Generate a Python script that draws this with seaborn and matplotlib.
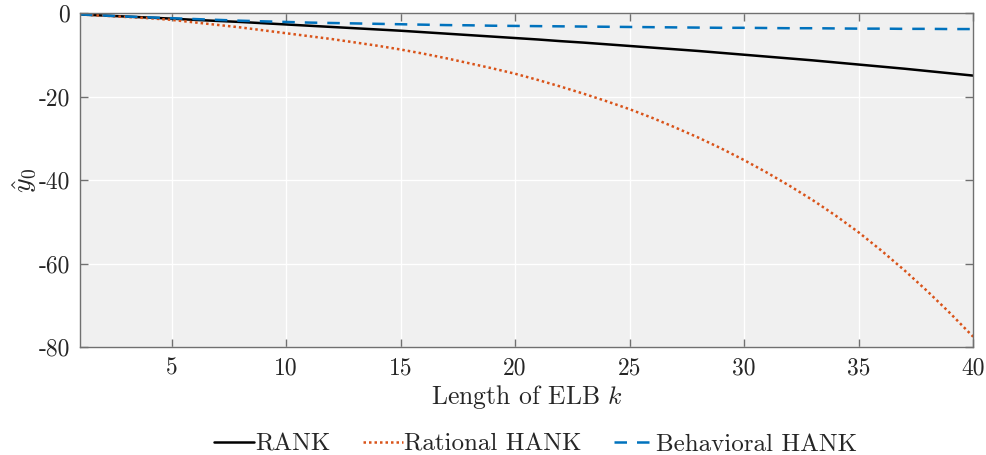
import numpy as np
import pandas as pd
import seaborn as sns
import matplotlib.pyplot as plt

# Length of ELB k
k = list(range(1, 41))

# y_hat_0, one value per k
rank = [-0.3, -0.55, -0.8, -1.05, -1.3, -1.6, -1.85, -2.1, -2.4, -2.7,
        -3.0, -3.3, -3.6, -3.9, -4.2, -4.55, -4.9, -5.25, -5.6, -5.95,
        -6.3, -6.7, -7.05, -7.45, -7.85, -8.25, -8.65, -9.05, -9.5, -9.95,
        -10.4, -10.85, -11.3, -11.8, -12.3, -12.8, -13.3, -13.85, -14.4, -14.95]
rational_hank = [-0.3, -0.6, -0.9, -1.2, -1.6, -2.2, -2.8, -3.4, -4.1, -4.8,
                 -5.5, -6.2, -7.0, -7.8, -8.7, -9.7, -10.8, -12.0, -13.2, -14.5,
                 -16.0, -17.6, -19.3, -21.1, -23.0, -25.1, -27.4, -29.8, -32.4, -35.2,
                 -38.2, -41.4, -44.8, -48.5, -52.5, -56.9, -61.6, -66.6, -71.9, -77.5]
behavioral_hank = [-0.3, -0.55, -0.8, -1.0, -1.2, -1.4, -1.6, -1.8, -1.95, -2.1,
                   -2.25, -2.35, -2.45, -2.55, -2.65, -2.75, -2.85, -2.9, -3.0, -3.05,
                   -3.1, -3.15, -3.2, -3.25, -3.3, -3.35, -3.4, -3.45, -3.5, -3.5,
                   -3.55, -3.6, -3.6, -3.65, -3.7, -3.7, -3.75, -3.75, -3.8, -3.8]

model_names = ['RANK', 'Rational HANK', 'Behavioral HANK']
df = pd.DataFrame({
    'k': k * 3,
    'y0': rank + rational_hank + behavioral_hank,
    'model': np.repeat(model_names, len(k)),
})

sns.set_style('whitegrid')
plt.rcParams['font.family'] = 'serif'
plt.rcParams['font.serif'] = ['cmr10', 'DejaVu Serif']
plt.rcParams['mathtext.fontset'] = 'cm'
plt.rcParams['axes.unicode_minus'] = False
plt.rcParams['axes.formatter.use_mathtext'] = True

fig, ax = plt.subplots(figsize=(9.87, 4.55), dpi=100)
fig.subplots_adjust(left=0.081, right=0.986, top=0.971, bottom=0.237)

palette = {'RANK': 'black', 'Rational HANK': '#D95319', 'Behavioral HANK': '#0072BD'}
dashes = {'RANK': '', 'Rational HANK': (1, 1.2), 'Behavioral HANK': (5, 4)}
sns.lineplot(data=df, x='k', y='y0', hue='model', style='model',
             palette=palette, dashes=dashes, linewidth=1.8, ax=ax)

ax.set_facecolor('#f0f0f0')
ax.grid(True, color='white', linewidth=1)
ax.set_xlim(1, 40)
ax.set_ylim(-80, 0)
ax.set_xticks([5, 10, 15, 20, 25, 30, 35, 40])
ax.set_yticks([-80, -60, -40, -20, 0])
ax.set_yticklabels(['-80', '-60', '-40', '-20', '0'])
ax.set_xticklabels(['5', '10', '15', '20', '25', '30', '35', '40'])
ax.tick_params(direction='in', length=6, width=1, color='#707070',
               labelsize=17, labelcolor='#262626', top=True, right=True,
               bottom=True, left=True, pad=7)
for s in ax.spines.values():
    s.set_color('#707070')
    s.set_linewidth(1)

ax.set_xlabel('Length of ELB $k$', fontsize=18.5, color='#262626', labelpad=3)
ax.set_ylabel(r'$\hat{y}_0$', fontsize=20, color='#262626', labelpad=0)

leg = ax.legend(loc='upper center', bbox_to_anchor=(0.51, -0.19), ncol=3,
                frameon=False, fontsize=18, handlelength=1.6, handletextpad=0.05,
                columnspacing=1.3)
for t in leg.get_texts():
    t.set_color('#262626')

fig.savefig('out.png', dpi=100)
